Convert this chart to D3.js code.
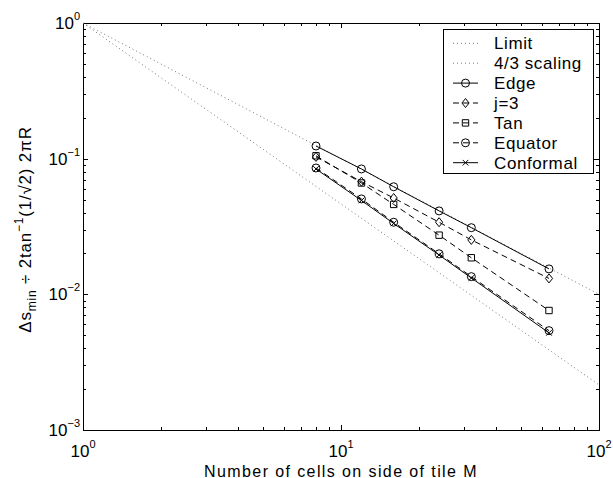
<html>
  <head>
    <meta charset="utf-8" />
    <script src="https://d3js.org/d3.v7.min.js"></script>
    <style>
      body { margin: 0; background: #fff; }
      svg text { font-family: "Liberation Sans", Arial, Helvetica, sans-serif; fill: #000; }
    </style>
  </head>
  <body>
    <svg id="chart" width="613" height="478"></svg>
    <script>
      // data
      var cells = [8, 12, 16, 24, 32, 64];
      var edge = [0.124, 0.084, 0.0621, 0.0412, 0.031, 0.0154];
      var j3 = [0.103, 0.0677, 0.0513, 0.034, 0.0252, 0.0131];
      var tan = [0.105, 0.0662, 0.046, 0.0273, 0.0186, 0.0076];
      var equator = [0.0854, 0.0505, 0.034, 0.0199, 0.0135, 0.0054];
      var conformal = [0.084, 0.0492, 0.0333, 0.0195, 0.0132, 0.0052];

      // reference lines (end points)
      var refX = [1, 100];
      var limitY = [1, 0.01];
      var scalingY = [1, 0.00215];

      var xDecades = [1, 10, 100];
      var yDecades = [0.001, 0.01, 0.1, 1];

      var svg = d3.select("#chart"),
        margin = { top: 23, right: 14, bottom: 48, left: 83 },
        width = +svg.attr("width"),
        height = +svg.attr("height");

      var x = d3.scaleLog().domain([1, 100]).range([margin.left, width - margin.right]);
      var y = d3.scaleLog().domain([0.001, 1]).range([height - margin.bottom, margin.top]);

      var minorX = [], minorY = [];
      [1, 10].forEach(function (d) {
        for (var k = 2; k < 10; k++) minorX.push(d * k);
      });
      [0.001, 0.01, 0.1].forEach(function (d) {
        for (var k = 2; k < 10; k++) minorY.push(d * k);
      });

      var x0 = x.range()[0], x1 = x.range()[1], y0 = y.range()[0], y1 = y.range()[1];

      function tickAxis(axis, vals, len, tr) {
        var g = svg.append("g")
          .attr("transform", tr)
          .call(axis.tickValues(vals).tickSize(-len).tickSizeOuter(0).tickFormat(""));
        g.selectAll("line").attr("stroke", "#000").attr("shape-rendering", "crispEdges");
        g.select(".domain").attr("stroke", "#000").attr("shape-rendering", "crispEdges");
        return g;
      }

      // box with inward ticks on all four sides
      tickAxis(d3.axisBottom(x), xDecades, 5, "translate(0," + y0 + ")");
      tickAxis(d3.axisBottom(x), minorX, 3, "translate(0," + y0 + ")");
      tickAxis(d3.axisTop(x), xDecades, 5, "translate(0," + y1 + ")");
      tickAxis(d3.axisTop(x), minorX, 3, "translate(0," + y1 + ")");
      tickAxis(d3.axisLeft(y), yDecades, 5, "translate(" + x0 + ",0)");
      tickAxis(d3.axisLeft(y), minorY, 3, "translate(" + x0 + ",0)");
      tickAxis(d3.axisRight(y), yDecades, 5, "translate(" + x1 + ",0)");
      tickAxis(d3.axisRight(y), minorY, 3, "translate(" + x1 + ",0)");

      // tick labels 10^n
      xDecades.forEach(function (d) {
        var t = svg.append("text")
          .attr("x", x(d))
          .attr("y", y0 + 27)
          .attr("text-anchor", "middle")
          .attr("font-size", 17);
        t.append("tspan").text("10");
        t.append("tspan").attr("font-size", 11).attr("dy", -9).text(Math.round(Math.log10(d)));
      });
      yDecades.forEach(function (d) {
        var e = Math.round(Math.log10(d));
        var t = svg.append("text")
          .attr("x", x0 - 3)
          .attr("y", y(d) + 6)
          .attr("text-anchor", "end")
          .attr("font-size", 17);
        t.append("tspan").text("10");
        t.append("tspan").attr("font-size", 11).attr("dy", -9).text(e < 0 ? "\u2212" + (-e) : e);
      });

      // axis titles
      svg.append("text")
        .attr("x", (x0 + x1) / 2)
        .attr("y", height - 1.5)
        .attr("text-anchor", "middle")
        .attr("font-size", 16)
        .style("letter-spacing", "1.4px")
        .text("Number of cells on side of tile M");

      var yl = svg.append("text")
        .attr("transform", "translate(31," + ((y0 + y1) / 2 + 3) + ") rotate(-90)")
        .attr("text-anchor", "middle")
        .attr("font-size", 17)
        .style("letter-spacing", "0.8px");
      yl.append("tspan").text("\u0394s");
      yl.append("tspan").attr("font-size", 12).attr("dy", 5).text("min");
      yl.append("tspan").attr("dy", -5).text(" \u00f7 2tan");
      yl.append("tspan").attr("font-size", 12).attr("dy", -8).text("\u2212" + "1");
      yl.append("tspan").attr("dy", 8).text("(1/\u221a2) 2\u03c0R");

      // marker shapes
      function marker(type, cx, cy) {
        if (type === "circle") {
          var r = 4;
          return "M" + (cx - r) + "," + cy + "a" + r + "," + r + " 0 1,0 " + 2 * r + ",0a" + r + "," + r + " 0 1,0 " + -2 * r + ",0";
        }
        if (type === "diamond") {
          var a = 4.5;
          return "M" + cx + "," + (cy - a) + "L" + (cx + a * 0.8) + "," + cy + "L" + cx + "," + (cy + a) + "L" + (cx - a * 0.8) + "," + cy + "Z";
        }
        if (type === "square") {
          var s = 3.2;
          return "M" + (cx - s) + "," + (cy - s) + "h" + 2 * s + "v" + 2 * s + "h" + -2 * s + "Z";
        }
        if (type === "x") {
          var c = 2.8;
          return "M" + (cx - c) + "," + (cy - c) + "L" + (cx + c) + "," + (cy + c) + "M" + (cx - c) + "," + (cy + c) + "L" + (cx + c) + "," + (cy - c);
        }
        return "";
      }

      var plot = svg.append("g");
      var line = d3.line().x(function (d) { return x(d[0]); }).y(function (d) { return y(d[1]); });

      var refs = [
        { name: "Limit", vals: limitY },
        { name: "4/3 scaling", vals: scalingY }
      ];
      refs.forEach(function (r) {
        plot.append("path")
          .datum(d3.zip(refX, r.vals))
          .attr("d", line)
          .attr("fill", "none")
          .attr("stroke", "#777")
          .attr("stroke-width", 1)
          .attr("stroke-dasharray", "1,3");
      });

      var series = [
        { name: "Edge", vals: edge, dash: null, mk: "circle" },
        { name: "j=3", vals: j3, dash: "6,4", mk: "diamond" },
        { name: "Tan", vals: tan, dash: "6,4", mk: "square" },
        { name: "Equator", vals: equator, dash: "6,4", mk: "circle" },
        { name: "Conformal", vals: conformal, dash: null, mk: "x" }
      ];

      series.forEach(function (s) {
        var pts = d3.zip(cells, s.vals);
        plot.append("path")
          .datum(pts)
          .attr("d", line)
          .attr("fill", "none")
          .attr("stroke", "#000")
          .attr("stroke-width", 1)
          .attr("stroke-dasharray", s.dash);
        plot.selectAll(null)
          .data(pts)
          .enter()
          .append("path")
          .attr("d", function (d) { return marker(s.mk, x(d[0]), y(d[1])); })
          .attr("fill", "none")
          .attr("stroke", "#000")
          .attr("stroke-width", 1);
      });

      // legend
      var lg = { left: 443, top: 29, w: 150, h: 144, row: 19.9, first: 14.3 };
      var leg = svg.append("g");
      leg.append("rect")
        .attr("x", lg.left + 0.5)
        .attr("y", lg.top + 0.5)
        .attr("width", lg.w)
        .attr("height", lg.h)
        .attr("fill", "#fff")
        .attr("stroke", "#000");

      var legItems = refs.map(function (r) { return { name: r.name, dash: "1,3", mk: null, color: "#777" }; })
        .concat(series.map(function (s) { return { name: s.name, dash: s.dash, mk: s.mk, color: "#000" }; }));

      legItems.forEach(function (d, i) {
        var cy = lg.top + lg.first + i * lg.row;
        leg.append("line")
          .attr("x1", lg.left + 10)
          .attr("x2", lg.left + 35)
          .attr("y1", cy)
          .attr("y2", cy)
          .attr("stroke", d.color)
          .attr("stroke-dasharray", d.dash);
        if (d.mk) {
          leg.append("path")
            .attr("d", marker(d.mk, lg.left + 22.5, cy))
            .attr("fill", "none")
            .attr("stroke", "#000");
        }
        leg.append("text")
          .attr("x", lg.left + 51)
          .attr("y", cy + 6)
          .attr("font-size", 17)
          .style("letter-spacing", "0.6px")
          .text(d.name);
      });
    </script>
  </body>
</html>
